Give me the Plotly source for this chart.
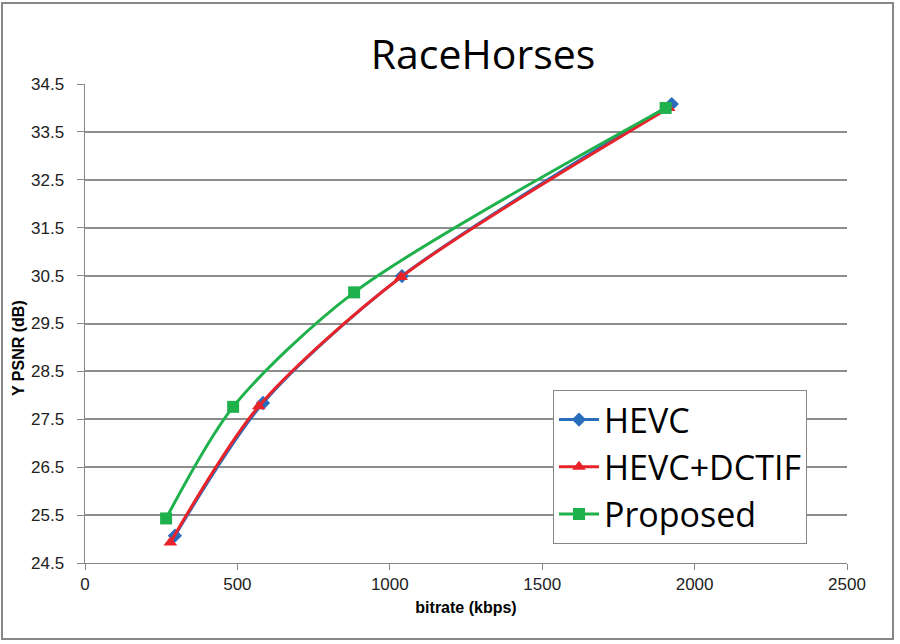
import plotly.graph_objects as go

title = "RaceHorses"
x_label = "bitrate (kbps)"
y_label = "Y PSNR (dB)"

hevc_x = [295, 584, 1040, 1925]
hevc_y = [25.07, 27.84, 30.49, 34.08]

dctif_x = [280, 570, 1037, 1915]
dctif_y = [24.93, 27.77, 30.47, 34.0]

prop_x = [266, 486, 883, 1905]
prop_y = [25.43, 27.76, 30.15, 34.0]

L, R, T, B = 85, 847, 84, 563
W, H = 900, 644
PW, PH = R - L, B - T

def px(x):
    return (x - L) / PW

def py(y):
    return (B - y) / PH

fig = go.Figure()
series = [
    ("HEVC", hevc_x, hevc_y, "#2a6ebb", "diamond", 11),
    ("HEVC+DCTIF", dctif_x, dctif_y, "#e8242a", "triangle-up", 12),
    ("Proposed", prop_x, prop_y, "#1fb14b", "square", 12),
]
for name, xs, ys, col, sym, sz in series:
    fig.add_trace(go.Scatter(
        x=xs, y=ys, name=name, mode="lines+markers",
        line=dict(color=col, width=3, shape="spline", smoothing=0.8),
        marker=dict(symbol=sym, size=sz, color=col),
    ))

fig.update_layout(
    width=W, height=H,
    margin=dict(l=L, r=W - R, t=T, b=H - B),
    paper_bgcolor="white", plot_bgcolor="white",
    title=dict(text=title, x=483 / W, xref="container", xanchor="center",
               y=1 - 55 / H, yref="container", yanchor="middle",
               font=dict(family="Open Sans, Liberation Sans, sans-serif", size=41, color="black")),
    xaxis=dict(range=[0, 2500], dtick=500, tick0=0, showgrid=False,
               showline=True, linecolor="#878787", linewidth=1,
               ticks="outside", ticklen=6, tickcolor="#878787",
               tickfont=dict(family="Liberation Sans, Arial, sans-serif", size=17, color="#222"),
               title=dict(text=x_label, standoff=8,
                          font=dict(family="Liberation Sans, Arial, sans-serif", size=16, color="black", weight="bold")),
               zeroline=False),
    yaxis=dict(range=[24.5, 34.5], dtick=1, tick0=24.5, showgrid=True,
               gridcolor="#8c8c8c", gridwidth=1.5,
               showline=True, linecolor="#878787", linewidth=1,
               ticks="outside", ticklen=7, tickcolor="#878787",
               tickformat=".1f", ticksuffix="\u00a0\u00a0",
               tickfont=dict(family="Liberation Sans, Arial, sans-serif", size=17, color="#222"),
               zeroline=False),
    legend=dict(x=px(553), y=py(390), xanchor="left", yanchor="top",
                bgcolor="white", bordercolor="#878787", borderwidth=1,
                font=dict(family="Open Sans, Liberation Sans, sans-serif", size=34, color="black"),
                itemwidth=40, tracegroupgap=0),
    showlegend=True,
)

fig.add_annotation(text=y_label, xref="paper", yref="paper",
                   x=px(18), y=py(348), xanchor="center", yanchor="middle",
                   textangle=-90, showarrow=False,
                   font=dict(family="Liberation Sans, Arial, sans-serif", size=16, color="black", weight="bold"))

fig.add_shape(type="rect", xref="paper", yref="paper",
              x0=px(2), x1=px(893), y0=py(639), y1=py(3),
              line=dict(color="#878787", width=2), layer="below")

fig.write_html("out.html")
